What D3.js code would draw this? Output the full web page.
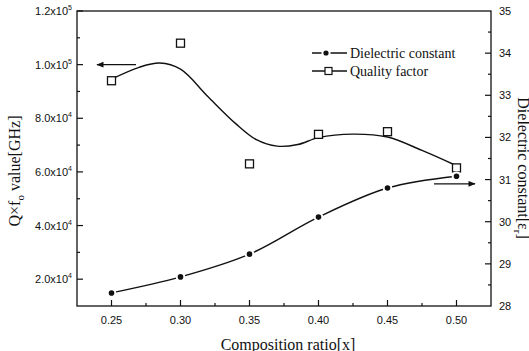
<!DOCTYPE html>
<html>
<head>
<meta charset="utf-8">
<script src="https://cdn.jsdelivr.net/npm/d3@7"></script>
<style>
  body { margin: 0; background: #fff; }
  text { fill: #111; }
</style>
</head>
<body>
<svg width="529" height="351"></svg>
<script>
'use strict';

// composition ratio x
const ratios = [0.25, 0.30, 0.35, 0.40, 0.45, 0.50];
// Q x f0 value (GHz), left axis
const qualityFactor = [94000, 108000, 63000, 74000, 75000, 61500];
// dielectric constant, right axis
const dielectric = [28.31, 28.69, 29.23, 30.11, 30.80, 31.08];

// fitted curve through the quality factor points
const qfFitX = [0.250, 0.270, 0.285, 0.300, 0.320, 0.340, 0.355, 0.370, 0.385, 0.400, 0.425, 0.450, 0.475, 0.500];
const qfFitY = [94600, 99000, 100600, 98300, 88000, 78000, 72000, 69600, 70200, 72800, 74100, 73000, 68000, 62300];

const xTicks = [0.25, 0.30, 0.35, 0.40, 0.45, 0.50];
const xTickLabels = ["0.25", "0.30", "0.35", "0.40", "0.45", "0.50"];
const qTicks = [20000, 40000, 60000, 80000, 100000, 120000];
const epsTicks = [28, 29, 30, 31, 32, 33, 34, 35];

const pLeft = 77, pRight = 491, pTop = 11, pBottom = 306;

let svg = d3.select("svg");

let x = d3.scaleLinear().domain([0.225, 0.525]).range([pLeft, pRight]);
let yQ = d3.scaleLinear().domain([10000, 120000]).range([pBottom, pTop]);
let yE = d3.scaleLinear().domain([28, 35]).range([pBottom, pTop]);

// frame
svg.append("rect")
    .attr("x", pLeft).attr("y", pTop)
    .attr("width", pRight - pLeft).attr("height", pBottom - pTop)
    .attr("fill", "none")
    .attr("stroke", "#111")
    .attr("stroke-width", 1.3);

// ticks (inward)
let ticks = svg.append("g").attr("stroke", "#111").attr("stroke-width", 1.2);

ticks.selectAll(".xt")
  .data(d3.range(0.25, 0.5001, 0.025))
  .join("line")
    .attr("x1", d => x(d)).attr("x2", d => x(d))
    .attr("y1", pBottom)
    .attr("y2", (d, i) => pBottom - (i % 2 ? 3 : 6));

ticks.selectAll(".qt")
  .data(d3.range(20000, 120001, 10000))
  .join("line")
    .attr("x1", pLeft)
    .attr("x2", (d, i) => pLeft + (i % 2 ? 3 : 6))
    .attr("y1", d => yQ(d)).attr("y2", d => yQ(d));

ticks.selectAll(".et")
  .data(d3.range(28.5, 35, 0.5))
  .join("line")
    .attr("x1", pRight)
    .attr("x2", (d, i) => pRight - (i % 2 ? 6 : 3))
    .attr("y1", d => yE(d)).attr("y2", d => yE(d));

// tick labels
const sans = "'Liberation Sans', Arial, sans-serif";
const serif = "'Liberation Serif', 'Times New Roman', serif";

svg.append("g")
  .selectAll("text")
  .data(xTicks)
  .join("text")
    .attr("x", d => x(d))
    .attr("y", 324)
    .attr("text-anchor", "middle")
    .attr("font-family", sans)
    .attr("font-size", 11)
    .text((d, i) => xTickLabels[i]);

let qLab = svg.append("g")
  .selectAll("text")
  .data(qTicks)
  .join("text")
    .attr("x", 72)
    .attr("y", d => yQ(d) + 4)
    .attr("text-anchor", "end")
    .attr("font-family", sans)
    .attr("font-size", 11);
qLab.append("tspan")
    .text(d => (d >= 100000 ? d / 100000 : d / 10000).toFixed(1) + "x10");
qLab.append("tspan")
    .attr("dy", -5)
    .attr("font-size", 7)
    .text(d => d >= 100000 ? "5" : "4");

svg.append("g")
  .selectAll("text")
  .data(epsTicks)
  .join("text")
    .attr("x", 499)
    .attr("y", d => yE(d) + 4)
    .attr("font-family", sans)
    .attr("font-size", 11)
    .text(d => d);

// axis titles
svg.append("text")
    .attr("x", (pLeft + pRight) / 2 + 4)
    .attr("y", 350)
    .attr("text-anchor", "middle")
    .attr("font-family", serif)
    .attr("font-size", 16)
    .text("Composition ratio[x]");

let lt = svg.append("text")
    .attr("transform", "translate(20,171) rotate(-90)")
    .attr("text-anchor", "middle")
    .attr("font-family", serif)
    .attr("font-size", 16);
lt.append("tspan").text("Q×f");
lt.append("tspan").attr("dy", 4).attr("font-size", 11).text("o");
lt.append("tspan").attr("dy", -4).text(" value[GHz]");

let rt = svg.append("text")
    .attr("transform", "translate(518,168) rotate(90)")
    .attr("text-anchor", "middle")
    .attr("font-family", serif)
    .attr("font-size", 16);
rt.append("tspan").text("Dielectric constant[ε");
rt.append("tspan").attr("dy", 4).attr("font-size", 11).text("r");
rt.append("tspan").attr("dy", -4).text("]");

// curves
svg.append("path")
    .datum(qfFitX.map((d, i) => [d, qfFitY[i]]))
    .attr("fill", "none")
    .attr("stroke", "#111")
    .attr("stroke-width", 1.4)
    .attr("d", d3.line().x(d => x(d[0])).y(d => yQ(d[1])).curve(d3.curveCatmullRom));

svg.append("path")
    .datum(ratios.map((d, i) => [d, dielectric[i]]))
    .attr("fill", "none")
    .attr("stroke", "#111")
    .attr("stroke-width", 1.4)
    .attr("d", d3.line().x(d => x(d[0])).y(d => yE(d[1])).curve(d3.curveCatmullRom));

// markers
svg.append("g")
  .selectAll("rect")
  .data(ratios)
  .join("rect")
    .attr("x", (d, i) => x(d) - 4)
    .attr("y", (d, i) => yQ(qualityFactor[i]) - 4)
    .attr("width", 8).attr("height", 8)
    .attr("fill", "#fff")
    .attr("stroke", "#111")
    .attr("stroke-width", 1.3);

svg.append("g")
  .selectAll("circle")
  .data(ratios)
  .join("circle")
    .attr("cx", d => x(d))
    .attr("cy", (d, i) => yE(dielectric[i]))
    .attr("r", 3.8)
    .attr("fill", "#111")
    .attr("stroke", "#fff")
    .attr("stroke-width", 2);

// arrows pointing to the axes
svg.append("defs").append("marker")
    .attr("id", "head")
    .attr("viewBox", "0 0 10 10")
    .attr("refX", 9).attr("refY", 5)
    .attr("markerWidth", 8).attr("markerHeight", 6)
    .attr("orient", "auto")
  .append("path")
    .attr("d", "M0,1L10,5L0,9Z")
    .attr("fill", "#111");

svg.append("line")
    .attr("x1", 136).attr("x2", 97)
    .attr("y1", yQ(100000)).attr("y2", yQ(100000))
    .attr("stroke", "#111").attr("stroke-width", 1.2)
    .attr("marker-end", "url(#head)");

svg.append("line")
    .attr("x1", 434).attr("x2", 475)
    .attr("y1", yE(30.9)).attr("y2", yE(30.9))
    .attr("stroke", "#111").attr("stroke-width", 1.2)
    .attr("marker-end", "url(#head)");

// legend
const legend = [
  {label: "Dielectric constant", shape: "circle"},
  {label: "Quality factor", shape: "square"}
];

let lg = svg.append("g")
  .selectAll("g")
  .data(legend)
  .join("g")
    .attr("transform", (d, i) => `translate(312,${53 + i * 18})`);

lg.append("line")
    .attr("x1", 0).attr("x2", 35)
    .attr("stroke", "#111").attr("stroke-width", 1.4);

lg.filter(d => d.shape === "circle").append("circle")
    .attr("cx", 14).attr("r", 3.6)
    .attr("fill", "#111").attr("stroke", "#fff").attr("stroke-width", 2);

lg.filter(d => d.shape === "square").append("rect")
    .attr("x", 13).attr("y", -3.5)
    .attr("width", 7).attr("height", 7)
    .attr("fill", "#fff").attr("stroke", "#111").attr("stroke-width", 1.2);

lg.append("text")
    .attr("x", 38).attr("y", 4.5)
    .attr("font-family", serif)
    .attr("font-size", 14)
    .text(d => d.label);
</script>
</body>
</html>
